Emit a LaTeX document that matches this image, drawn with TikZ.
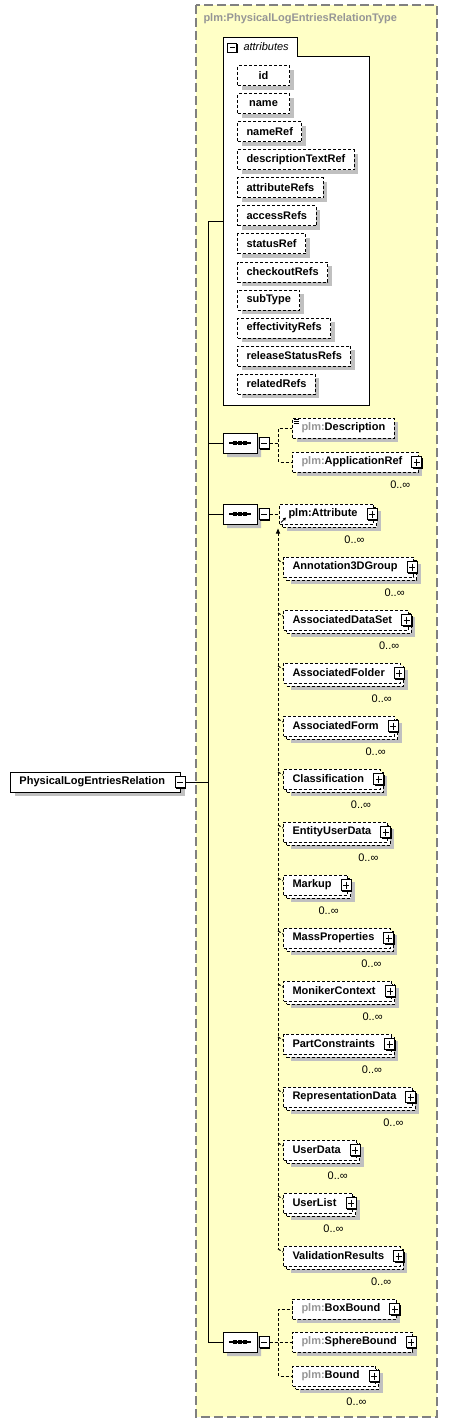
\documentclass[tikz,border=0pt]{standalone}
\usepackage{fontspec}
\setmainfont{Liberation Sans}
\usetikzlibrary{positioning,shapes.misc,shadows,arrows.meta}
\definecolor{typebg}{RGB}{255,255,198}
\definecolor{typeframe}{RGB}{128,128,128}
\definecolor{shadowgray}{RGB}{192,192,192}
\definecolor{pfx}{RGB}{150,150,150}
\newcommand{\ns}{\textcolor{pfx}{plm:}}

\tikzset{
  dashline/.style={dash pattern=on 3pt off 2pt},
  withshadow/.style={drop shadow={draw=none, fill=shadowgray, opacity=1, shadow xshift=4pt, shadow yshift=-4pt}},
  box/.style={draw, fill=white, anchor=west, minimum height=20pt, inner xsep=9pt, inner ysep=0pt},
  rootbox/.style={box, withshadow},
  attr/.style={box, dashline, minimum width=52pt, withshadow},
  elem/.style={box, dashline, withshadow},
  many/.style={box, dashline,
    drop shadow={draw=none, fill=shadowgray, opacity=1, shadow xshift=7pt, shadow yshift=-7pt},
    copy shadow={draw=black, fill=white, shadow xshift=3pt, shadow yshift=-3pt}},
  haspm/.style={execute at end node={\hspace{7pt}}},
  mult/.style={anchor=north east, inner sep=0pt, font=\fontsize{11}{13}\selectfont},
  conn/.style={dashline},
  pm/.style={draw, fill=white, inner sep=0pt, minimum width=10pt, minimum height=11pt,
    drop shadow={draw=none, fill=black, opacity=1, shadow xshift=1pt, shadow yshift=-1pt}},
  pmminus/.style={pm, path picture={\draw ([xshift=2pt]path picture bounding box.west) -- ([xshift=-2pt]path picture bounding box.east);}},
  pmplus/.style={pm, path picture={\draw ([xshift=2pt]path picture bounding box.west) -- ([xshift=-2pt]path picture bounding box.east);
    \draw ([yshift=-2pt]path picture bounding box.north) -- ([yshift=2pt]path picture bounding box.south);}},
  seq/.style={chamfered rectangle, chamfered rectangle xsep=6pt, chamfered rectangle ysep=6pt,
    draw, fill=white, inner sep=0pt, minimum width=34pt, minimum height=20pt, withshadow,
    path picture={\draw[line width=1.3pt] ([xshift=-11pt]path picture bounding box.center) -- ([xshift=11pt]path picture bounding box.center);
      \foreach \dx in {-5,0,5} \fill[black] ([xshift=\dx pt]path picture bounding box.center) +(-2,-2) rectangle +(2,2);}}
}

\begin{document}
\begin{tikzpicture}[x=1pt, y=-1pt, line width=1pt,
  font=\fontsize{11}{13}\selectfont\bfseries]
\useasboundingbox (0,0) rectangle (453,1423);

% complex type
\draw[typeframe, fill=typebg, line width=1.3pt, dash pattern=on 9pt off 4pt] (196,5) rectangle (437,1417);
\node[anchor=west, text=pfx, inner sep=0pt] (typename) at (203,19) {plm:PhysicalLogEntriesRelationType};

% attributes
\draw[fill=white] (223,38) -- (297,38) -- (297,57) -- (369,57) -- (369,405) -- (223,405) -- cycle;
\node[pmminus, minimum width=9pt, minimum height=9pt] (attmin) at (232,48) {};
\node[anchor=west, inner sep=0pt, font=\fontsize{11}{13}\selectfont\itshape] (atttitle) at (243,47) {attributes};
\foreach \a [count=\i] in {id,name,nameRef,descriptionTextRef,attributeRefs,accessRefs,statusRef,checkoutRefs,subType,effectivityRefs,releaseStatusRefs,relatedRefs}
  \node[attr] (a\i) at (237,48+28*\i) {\a};

% root and trunk
\node[rootbox, haspm] (root) at (10,782) {PhysicalLogEntriesRelation};
\node[pmminus] (rootm) at ([xshift=-1pt]root.east) {};
\coordinate (trunktop) at (208,222);
\coordinate (trunkbot) at (208,1342);
\coordinate (attgrp) at (223,222);
\draw (rootm.east) -- (rootm.east -| trunktop);
\draw (trunktop) -- (trunkbot);
\draw (trunktop) -- (attgrp);

% first sequence
\node[seq] (s1) at (240,443) {};
\node[pmminus, right=1pt of s1] (s1m) {};
\draw (s1.west -| trunktop) -- (s1.west);
\node[elem] (desc) at (292,428) {\ns Description};
\foreach \k in {2,4,6}
  \draw[line width=0.7pt] ([xshift=2pt,yshift=-\k pt]desc.north west) -- ++(5,0);
\node[elem, haspm] (appref) at (292,462) {\ns ApplicationRef};
\node[pmplus] (apprefp) at ([xshift=-2pt]appref.east) {};
\node[mult] (apprefn) at ([xshift=-8pt,yshift=-8pt]appref.south east) {0..∞};
\draw[conn] (s1m.east) -- ++(9,0) |- (desc.west);
\draw[conn] (s1m.east) -- ++(9,0) |- (appref.west);

% second sequence
\node[seq] (s2) at (240,514) {};
\node[pmminus, right=1pt of s2] (s2m) {};
\draw (s2.west -| trunktop) -- (s2.west);
\node[many, haspm] (attr) at (279,514) {plm:Attribute};
\node[pmplus] (attrp) at ([xshift=-2pt]attr.east) {};
\node[mult] (attrn) at ([xshift=-9pt,yshift=-11pt]attr.south east) {0..∞};
\draw[conn] (s2m.east) -- (attr.west);
\draw[-{Triangle[length=3pt,width=3pt]}, line width=0.8pt] ([xshift=2pt,yshift=2pt]attr.south west) -- ++(5,-5);
\coordinate (sghead) at ([xshift=-1pt,yshift=-4pt]attr.south west);

% substitution group members
\foreach \m [count=\i] in {Annotation3DGroup,AssociatedDataSet,AssociatedFolder,AssociatedForm,Classification,EntityUserData,Markup,MassProperties,MonikerContext,PartConstraints,RepresentationData,UserData,UserList,ValidationResults} {
  \node[many, haspm] (m\i) at (283,514+53*\i) {\m};
  \node[pmplus] (m\i p) at ([xshift=-2pt]m\i.east) {};
  \node[mult] (m\i n) at ([xshift=-9pt,yshift=-11pt]m\i.south east) {0..∞};
  \draw[conn] ([yshift=7pt]m\i.west -| sghead) -- ([yshift=4pt]m\i.west);
}
\draw[conn, {Triangle[length=5pt,width=4pt]}-] (sghead) -- ([yshift=7pt]m14.west -| sghead);

% third sequence
\node[seq] (s3) at (240,1342) {};
\node[pmminus, right=1pt of s3] (s3m) {};
\draw (trunkbot) -- (s3.west);
\node[elem, haspm] (boxb) at (292,1309) {\ns BoxBound};
\node[pmplus] (boxbp) at ([xshift=-2pt]boxb.east) {};
\node[elem, haspm] (sphb) at (292,1342) {\ns SphereBound};
\node[pmplus] (sphbp) at ([xshift=-2pt]sphb.east) {};
\node[many, haspm] (bnd) at (292,1376) {\ns Bound};
\node[pmplus] (bndp) at ([xshift=-2pt]bnd.east) {};
\node[mult] (bndn) at ([xshift=-9pt,yshift=-11pt]bnd.south east) {0..∞};
\draw[conn] (s3m.east) -- ++(9,0) |- (boxb.west);
\draw[conn] (s3m.east) -- (sphb.west);
\draw[conn] (s3m.east) -- ++(9,0) |- (bnd.west);
\end{tikzpicture}
\end{document}
